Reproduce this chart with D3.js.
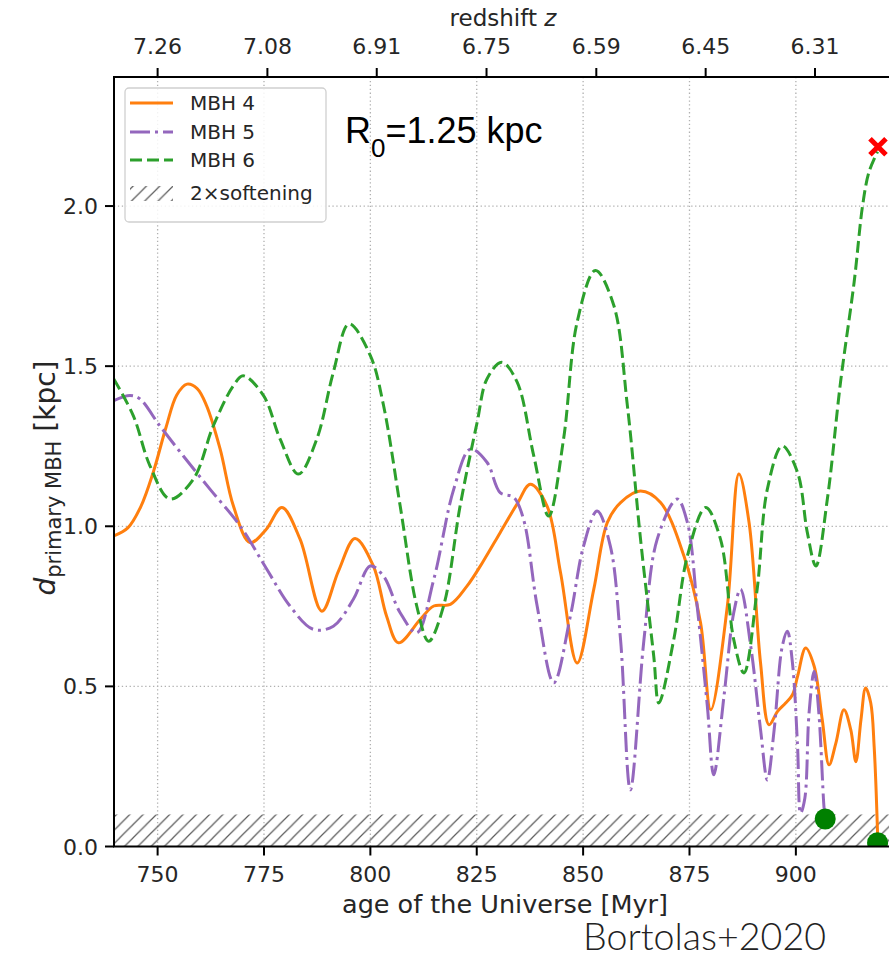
<!DOCTYPE html>
<html><head><meta charset="utf-8">
<script src="https://cdn.jsdelivr.net/npm/d3@7"></script>
<style>body{margin:0;background:#fff} svg{display:block}</style>
</head><body>
<svg id="c" width="889" height="960"></svg>
<script>
// ---- data ----
const ageTicks = [750, 775, 800, 825, 850, 875, 900];
const dTicks = [0.0, 0.5, 1.0, 1.5, 2.0];
const zTickAges = [750.0, 775.8, 801.5, 827.3, 853.1, 878.8, 904.5];
const zTickLabels = ["7.26", "7.08", "6.91", "6.75", "6.59", "6.45", "6.31"];
const softening2x = 0.1;

const mbh4 = [[739.7,0.970],[743.0,0.995],[746.0,1.06],[749.0,1.17],[752.0,1.31],[754.5,1.41],[756.9,1.444],[759.3,1.43],[761.5,1.377],[764.7,1.241],[767.8,1.064],[771.7,0.949],[775.5,0.99],[779.2,1.059],[783.5,0.959],[788.6,0.735],[792.5,0.86],[796.4,0.962],[800.7,0.876],[803.8,0.72],[806.6,0.636],[811.7,0.709],[814.9,0.751],[818.8,0.756],[822.7,0.813],[826.5,0.89],[830.5,0.980],[834.5,1.07],[837.6,1.131],[841.5,1.064],[844.7,0.855],[848.6,0.573],[852.5,0.803],[855.7,1.012],[858.8,1.074],[863.5,1.110],[868.2,1.074],[873.7,0.907],[877.6,0.699],[880.0,0.427],[883.9,0.751],[886.6,1.163],[889.0,1.012],[891.7,0.573],[893.7,0.380],[895.7,0.422],[897.6,0.448],[899.2,0.474],[900.4,0.531],[902.3,0.620],[904.3,0.563],[906.2,0.396],[907.8,0.255],[909.4,0.323],[911.3,0.427],[912.9,0.365],[914.1,0.265],[915.3,0.396],[916.4,0.495],[917.6,0.448],[918.4,0.312],[919.2,0.041],[919.25,0.012]];
const mbh5 = [[739.7,1.392],[743.5,1.408],[745.8,1.398],[750.5,1.314],[756.0,1.220],[762.3,1.116],[769.4,1.001],[775.7,0.865],[781.1,0.751],[786.6,0.678],[791.3,0.688],[796.0,0.772],[800.0,0.876],[803.1,0.844],[807.0,0.730],[810.9,0.667],[814.9,0.834],[819.6,1.116],[823.5,1.241],[827.4,1.20],[830.5,1.105],[833.7,1.090],[836.0,1.022],[839.2,0.751],[843.1,0.511],[847.0,0.719],[850.1,0.938],[853.3,1.048],[856.4,0.938],[858.8,0.646],[861.1,0.177],[864.3,0.646],[867.4,0.959],[872.1,1.085],[874.5,1.012],[876.8,0.751],[879.2,0.438],[880.7,0.224],[883.1,0.469],[885.4,0.730],[887.0,0.803],[889.4,0.625],[891.7,0.365],[893.3,0.208],[894.9,0.365],[896.8,0.625],[898.0,0.672],[899.2,0.573],[900.4,0.312],[901.1,0.104],[902.1,0.15],[903.1,0.417],[904.3,0.547],[905.4,0.417],[906.6,0.125],[906.9,0.086]];
const mbh6 = [[739.7,1.460],[744.3,1.345],[748.2,1.189],[752.9,1.085],[758.4,1.147],[763.1,1.314],[767.8,1.439],[770.1,1.470],[774.9,1.408],[778.8,1.272],[783.1,1.163],[787.4,1.272],[791.3,1.481],[795.0,1.632],[800.0,1.533],[803.1,1.377],[807.0,1.064],[810.9,0.751],[813.7,0.641],[817.2,0.751],[821.1,1.064],[825.1,1.325],[827.4,1.460],[830.9,1.512],[834.5,1.450],[838.4,1.220],[841.9,1.032],[845.4,1.272],[848.6,1.638],[852.9,1.799],[857.2,1.690],[860.4,1.377],[863.5,0.959],[866.6,0.594],[867.8,0.448],[871.3,0.646],[874.5,0.907],[878.8,1.059],[882.3,0.959],[885.4,0.646],[887.8,0.542],[890.9,0.803],[893.3,1.116],[896.8,1.251],[900.4,1.168],[902.7,0.980],[904.7,0.876],[907.4,1.085],[910.5,1.450],[913.7,1.763],[915.7,2.003],[917.2,2.107],[919.2,2.170]];
const mergerPoints = [[906.9,0.086],[919.2,0.012]];
const escapePoints = [[919.3,2.185]];

const seriesNames = ["MBH 4", "MBH 5", "MBH 6"];
const seriesColors = ["#ff7f0e", "#9467bd", "#2ca02c"];
const seriesDash = [null, "20,5,3,5", "12,5"];
const seriesData = [mbh4, mbh5, mbh6];

// ---- layout ----
const L = 114, T = 77, B = 846.5;
const x = d3.scaleLinear().domain([739.75, 922.5]).range([L, L + (922.5 - 739.75) * 4.255]);
const y = d3.scaleLinear().domain([0, 2.403]).range([B, T]);
const R = x.range()[1];

const svg = d3.select("#c");
const defs = svg.append("defs");
defs.append("clipPath").attr("id", "plotclip").append("rect")
  .attr("x", L).attr("y", T).attr("width", R - L).attr("height", B - T);
const hp = defs.append("pattern").attr("id", "hatch").attr("patternUnits", "userSpaceOnUse")
  .attr("width", 13.3).attr("height", 13.3);
hp.append("path").attr("d", "M0,13.3 L13.3,0 M-3.3,3.3 L3.3,-3.3 M10,16.6 L16.6,10")
  .attr("stroke", "#5a5a5a").attr("stroke-width", 1.2);

const font = "DejaVu Sans, sans-serif";

// grid
const grid = svg.append("g").attr("stroke", "#b0b0b0").attr("stroke-width", 1.3).attr("stroke-dasharray", "1.3,2.6");
grid.selectAll("line.v").data(ageTicks).join("line").attr("class", "v")
  .attr("x1", d => x(d)).attr("x2", d => x(d)).attr("y1", T).attr("y2", B);
grid.selectAll("line.h").data(dTicks.filter(d => d > 0)).join("line").attr("class", "h")
  .attr("x1", L).attr("x2", R).attr("y1", d => y(d)).attr("y2", d => y(d));

const plot = svg.append("g").attr("clip-path", "url(#plotclip)");
// softening band
plot.append("rect").attr("x", L).attr("y", y(softening2x)).attr("width", R - L)
  .attr("height", y(0) - y(softening2x)).attr("fill", "url(#hatch)");

// lines
const line = d3.line().x(d => x(d[0])).y(d => y(d[1])).curve(d3.curveCatmullRom.alpha(0.5));
seriesData.forEach((s, i) => {
  plot.append("path").datum(s).attr("d", line).attr("fill", "none")
    .attr("stroke", seriesColors[i]).attr("stroke-width", 3)
    .attr("stroke-dasharray", seriesDash[i]);
});
// markers
plot.selectAll("circle.m").data(mergerPoints).join("circle").attr("class", "m")
  .attr("cx", d => x(d[0])).attr("cy", d => y(d[1])).attr("r", 10.5).attr("fill", "#008000");
escapePoints.forEach(p => {
  const cx = x(p[0]), cy = y(p[1]), s = 8;
  plot.append("path").attr("d", `M${cx-s},${cy-s}L${cx+s},${cy+s}M${cx-s},${cy+s}L${cx+s},${cy-s}`)
    .attr("stroke", "#ff0000").attr("stroke-width", 5);
});

// spines
const sp = svg.append("g").attr("stroke", "#000").attr("stroke-width", 2).attr("fill", "none");
sp.append("rect").attr("x", L).attr("y", T).attr("width", R - L).attr("height", B - T);

// bottom axis
const bx = svg.append("g");
bx.selectAll("line").data(ageTicks).join("line")
  .attr("x1", d => x(d)).attr("x2", d => x(d)).attr("y1", B).attr("y2", B + 9)
  .attr("stroke", "#000").attr("stroke-width", 2);
bx.selectAll("text").data(ageTicks).join("text")
  .attr("x", d => x(d)).attr("y", B + 35).attr("text-anchor", "middle")
  .attr("font-family", font).attr("font-size", 22).attr("fill", "#262626").text(d => d);
svg.append("text").attr("x", 505).attr("y", 913).attr("text-anchor", "middle")
  .attr("font-family", font).attr("font-size", 25.5).attr("fill", "#262626").text("age of the Universe [Myr]");

// left axis
const ly = svg.append("g");
ly.selectAll("line").data(dTicks).join("line")
  .attr("x1", L - 9).attr("x2", L).attr("y1", d => y(d)).attr("y2", d => y(d))
  .attr("stroke", "#000").attr("stroke-width", 2);
ly.selectAll("text").data(dTicks).join("text")
  .attr("x", L - 16).attr("y", d => y(d) + 8).attr("text-anchor", "end")
  .attr("font-family", font).attr("font-size", 22).attr("fill", "#262626").text(d => d.toFixed(1));
const yl = svg.append("text").attr("transform", "translate(55,478) rotate(-90)")
  .attr("text-anchor", "middle").attr("font-family", font).attr("font-size", 28).attr("fill", "#262626");
yl.append("tspan").attr("font-style", "italic").text("d");
yl.append("tspan").attr("font-size", 21).attr("dy", 6).text("primary MBH");
yl.append("tspan").attr("dy", -6).text(" [kpc]");

// top axis
const tx = svg.append("g");
tx.selectAll("line").data(zTickAges).join("line")
  .attr("x1", d => x(d)).attr("x2", d => x(d)).attr("y1", T).attr("y2", T - 9)
  .attr("stroke", "#000").attr("stroke-width", 2);
tx.selectAll("text").data(zTickAges).join("text")
  .attr("x", d => x(d)).attr("y", T - 23).attr("text-anchor", "middle")
  .attr("font-family", font).attr("font-size", 22).attr("fill", "#262626")
  .text((d, i) => zTickLabels[i]);
const zt = svg.append("text").attr("x", 503).attr("y", 26).attr("text-anchor", "middle")
  .attr("font-family", font).attr("font-size", 23).attr("fill", "#262626");
zt.append("tspan").text("redshift ");
zt.append("tspan").attr("font-style", "italic").text("z");

// legend
const lg = svg.append("g");
lg.append("rect").attr("x", 125).attr("y", 88).attr("width", 201).attr("height", 134).attr("rx", 4)
  .attr("fill", "#fff").attr("fill-opacity", 0.85).attr("stroke", "#d0d0d0").attr("stroke-width", 1.3);
const rowY = [103, 132, 160, 193];
seriesNames.forEach((n, i) => {
  lg.append("line").attr("x1", 130).attr("x2", 173).attr("y1", rowY[i]).attr("y2", rowY[i])
    .attr("stroke", seriesColors[i]).attr("stroke-width", 3).attr("stroke-dasharray", seriesDash[i]);
  lg.append("text").attr("x", 190).attr("y", rowY[i] + 7).attr("font-family", font)
    .attr("font-size", 20).attr("fill", "#262626").text(n);
});
lg.append("rect").attr("x", 130).attr("y", 186).attr("width", 43).attr("height", 15).attr("fill", "url(#hatch)");
lg.append("text").attr("x", 190).attr("y", rowY[3] + 7).attr("font-family", font)
  .attr("font-size", 20).attr("fill", "#262626").text("2×softening");

// annotation
const ann = svg.append("text").attr("x", 345).attr("y", 143).attr("font-family", "Liberation Sans, Arial, sans-serif")
  .attr("font-size", 36).attr("fill", "#000");
ann.append("tspan").text("R");
ann.append("tspan").attr("font-size", 26).attr("dy", 14).text("0");
ann.append("tspan").attr("dy", -14).text("=1.25 kpc");

svg.append("text").attr("x", 583).attr("y", 950).attr("font-family", "Lato, sans-serif").attr("font-weight", 300)
  .attr("font-size", 37).attr("textLength", 243).attr("lengthAdjust", "spacingAndGlyphs")
  .attr("fill", "#222").text("Bortolas+2020");
</script>
</body></html>
